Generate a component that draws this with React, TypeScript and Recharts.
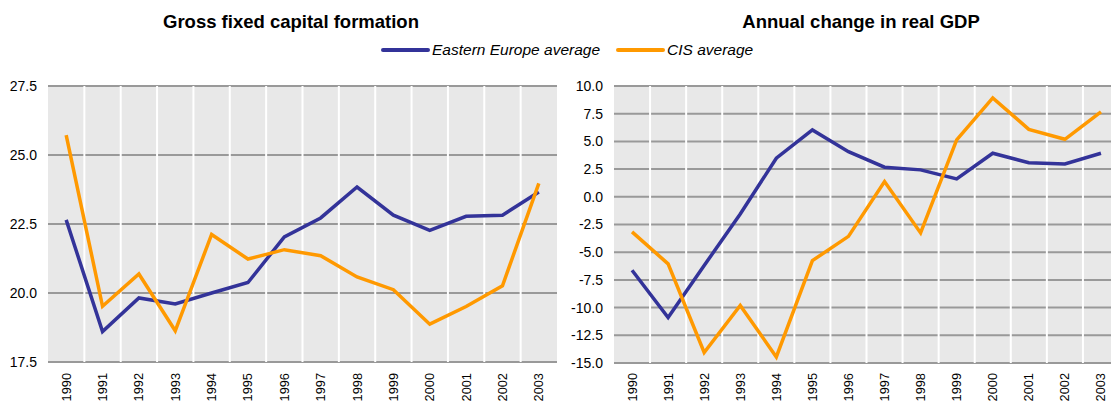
import { LineChart, Line, XAxis, YAxis, CartesianGrid, Legend } from 'recharts';

const years = ['1990', '1991', '1992', '1993', '1994', '1995', '1996', '1997', '1998', '1999', '2000', '2001', '2002', '2003'];

// Gross fixed capital formation
const gfcfEastern = [22.65, 18.6, 19.82, 19.6, 20.0, 20.38, 22.03, 22.72, 23.84, 22.82, 22.27, 22.78, 22.82, 23.66];
const gfcfCis = [25.72, 19.52, 20.69, 18.63, 22.12, 21.23, 21.57, 21.35, 20.58, 20.12, 18.87, 19.51, 20.26, 23.97];
const gfcfTicks = [17.5, 20, 22.5, 25, 27.5];

// Annual change in real GDP
const gdpEastern = [-6.63, -10.9, -6.2, -1.55, 3.48, 6.03, 4.07, 2.67, 2.43, 1.62, 3.93, 3.08, 2.97, 3.93];
const gdpCis = [-3.17, -6.05, -14.05, -9.8, -14.45, -5.76, -3.57, 1.38, -3.26, 5.13, 8.93, 6.09, 5.19, 7.67];
const gdpTicks = [-15, -12.5, -10, -7.5, -5, -2.5, 0, 2.5, 5, 7.5, 10];

const BLUE = '#333399';
const ORANGE = '#FF9900';
const FONT = '"Liberation Sans", Arial, sans-serif';

const gfcfData = years.map((year, i) => ({ year, eastern: gfcfEastern[i], cis: gfcfCis[i] }));
const gdpData = years.map((year, i) => ({ year, eastern: gdpEastern[i], cis: gdpCis[i] }));

// vertical grid lines sit between the categories
const bandLines = ({ offset }: any) => {
  const n = years.length;
  const out: number[] = [];
  for (let k = 1; k < n; k++) out.push(offset.left + (offset.width * k) / n);
  return out;
};

const YearTick = ({ x, y, payload }: any) => (
  <text
    x={x}
    y={y}
    transform={`rotate(-90, ${x}, ${y})`}
    textAnchor="end"
    dy="0.35em"
    fontSize={12.8}
    fontFamily={FONT}
    fill="#000"
  >
    {payload.value}
  </text>
);

const LegendContent = () => (
  <div style={{ display: 'flex', alignItems: 'center', whiteSpace: 'nowrap', fontFamily: FONT, fontStyle: 'italic', fontSize: 15.5, color: '#000' }}>
    <svg width={49} height={6}>
      <line x1={2} y1={3} x2={47} y2={3} stroke={BLUE} strokeWidth={4} strokeLinecap="round" />
    </svg>
    <span style={{ marginLeft: 2 }}>Eastern Europe average</span>
    <svg width={49} height={6} style={{ marginLeft: 16 }}>
      <line x1={2} y1={3} x2={47} y2={3} stroke={ORANGE} strokeWidth={4} strokeLinecap="round" />
    </svg>
    <span style={{ marginLeft: 2 }}>CIS average</span>
  </div>
);

const titleStyle = (center: number): React.CSSProperties => ({
  position: 'absolute',
  top: 13,
  left: center - 200,
  width: 400,
  textAlign: 'center',
  fontFamily: FONT,
  fontWeight: 'bold',
  fontSize: 18.5,
  lineHeight: '18px',
  color: '#000',
});

// gray horizontals first, white verticals drawn over them
const hGrid = <CartesianGrid fill="#E8E8E8" vertical={false} stroke="#999999" strokeWidth={2} />;
const vGrid = <CartesianGrid horizontal={false} stroke="#FFFFFF" strokeWidth={2} verticalCoordinatesGenerator={bandLines} />;

export default function App() {
  return (
    <div style={{ position: 'absolute', top: 0, left: 0, width: 1111, height: 403, overflow: 'hidden', background: '#fff' }}>
      <div style={titleStyle(291)}>Gross fixed capital formation</div>
      <div style={titleStyle(861)}>Annual change in real GDP</div>

      <div style={{ position: 'absolute', top: 0, left: 0 }}>
        <LineChart width={560} height={403} data={gfcfData} margin={{ top: 86, right: 3, bottom: 0, left: 0 }}>
          {hGrid}
          {vGrid}
          <XAxis dataKey="year" scale="band" height={41} interval={0} tick={<YearTick />} tickLine={false} axisLine={false} tickSize={0} tickMargin={11} />
          <YAxis
            width={48}
            domain={[17.5, 27.5]}
            ticks={gfcfTicks}
            tickFormatter={(v: number) => v.toFixed(1)}
            tick={{ fontSize: 14, fontFamily: FONT, fill: '#000' }}
            tickLine={false}
            axisLine={false}
            tickSize={0}
            tickMargin={11}
          />
          <Legend
            layout="horizontal"
            verticalAlign="middle"
            align="center"
            content={<LegendContent />}
            wrapperStyle={{ top: 41, left: 381, width: 420 }}
          />
          <Line type="linear" dataKey="eastern" name="Eastern Europe average" stroke={BLUE} strokeWidth={3.5} dot={false} isAnimationActive={false} />
          <Line type="linear" dataKey="cis" name="CIS average" stroke={ORANGE} strokeWidth={3.5} dot={false} isAnimationActive={false} />
        </LineChart>
      </div>

      <div style={{ position: 'absolute', top: 0, left: 560 }}>
        <LineChart width={559} height={403} data={gdpData} margin={{ top: 86, right: 0, bottom: 0, left: 0 }}>
          {hGrid}
          {vGrid}
          <XAxis dataKey="year" scale="band" height={40} interval={0} tick={<YearTick />} tickLine={false} axisLine={false} tickSize={0} tickMargin={10} />
          <YAxis
            width={54}
            domain={[-15, 10]}
            ticks={gdpTicks}
            tickFormatter={(v: number) => v.toFixed(1)}
            tick={{ fontSize: 14, fontFamily: FONT, fill: '#000' }}
            tickLine={false}
            axisLine={false}
            tickSize={0}
            tickMargin={11}
          />
          <Line type="linear" dataKey="eastern" name="Eastern Europe average" stroke={BLUE} strokeWidth={3.5} dot={false} isAnimationActive={false} />
          <Line type="linear" dataKey="cis" name="CIS average" stroke={ORANGE} strokeWidth={3.5} dot={false} isAnimationActive={false} />
        </LineChart>
      </div>
    </div>
  );
}
